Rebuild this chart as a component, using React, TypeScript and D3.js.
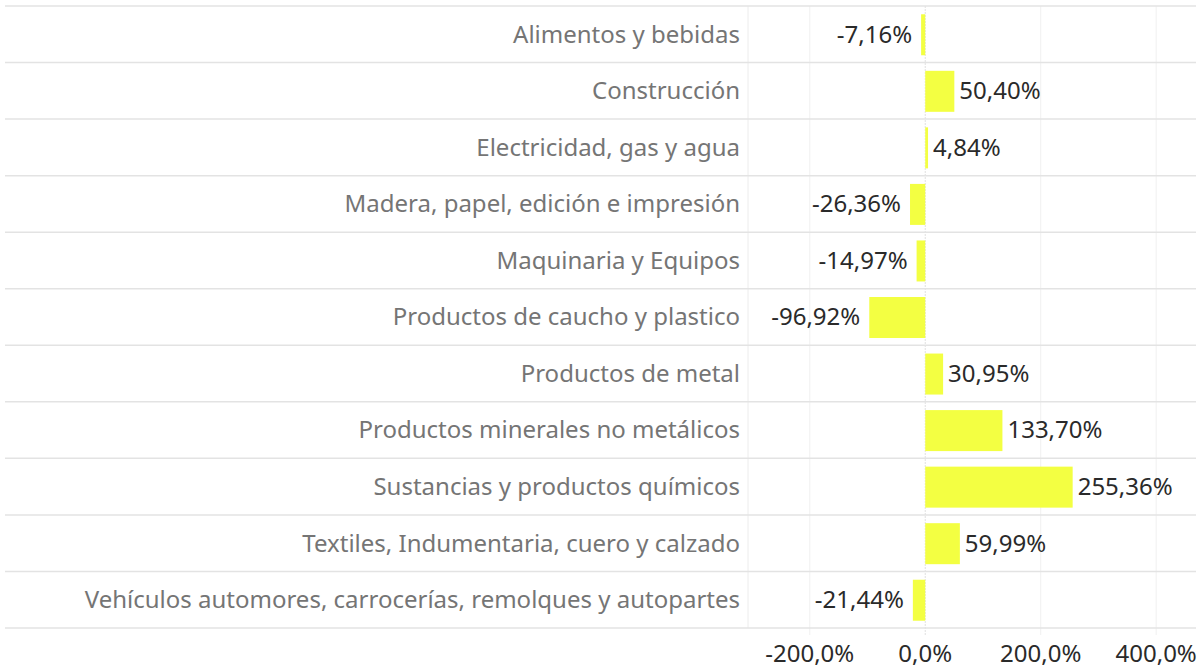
import React from "react";
import * as d3 from "d3";

const categories = [
  "Alimentos y bebidas",
  "Construcción",
  "Electricidad, gas y agua",
  "Madera, papel, edición e impresión",
  "Maquinaria y Equipos",
  "Productos de caucho y plastico",
  "Productos de metal",
  "Productos minerales no metálicos",
  "Sustancias y productos químicos",
  "Textiles, Indumentaria, cuero y calzado",
  "Vehículos automores, carrocerías, remolques y autopartes",
];
const values = [-7.16, 50.4, 4.84, -26.36, -14.97, -96.92, 30.95, 133.7, 255.36, 59.99, -21.44];
const ticks = [-200, 0, 200, 400];

const W = 1199;
const H = 669;
const FONT = "'Noto Sans', 'Open Sans', sans-serif";

export default function App() {
  const top = 6;
  const bottom = 628;
  const paneLeft = 748;
  const paneRight = 1196;
  const x = d3.scaleLinear().domain([-307, 469]).range([paneLeft, paneRight]);
  const y = d3.scaleBand<string>().domain(categories).range([top, bottom]).paddingInner(0).paddingOuter(0);
  const rowH = y.bandwidth();
  const barH = 41;
  const fmt = (v: number) => v.toFixed(2).replace(".", ",") + "%";
  const fmtTick = (v: number) => v.toFixed(1).replace(".", ",") + "%";

  return (
    <div style={{ position: "absolute", left: 0, top: 0 }}>
      <svg width={W} height={H} style={{ display: "block", background: "#fff" }}>
        {ticks.map((t) => (
          <line key={"g" + t} x1={x(t)} x2={x(t)} y1={top} y2={635} stroke={t === 0 ? "#e0e0e0" : "#f0f0f0"} strokeWidth={1} strokeDasharray={t === 0 ? "2,1" : undefined} />
        ))}
        <line x1={paneLeft} x2={paneLeft} y1={top} y2={bottom} stroke="#ececec" strokeWidth={1} />
        {d3.range(categories.length + 1).map((i) => (
          <line key={"r" + i} x1={5} x2={paneRight} y1={top + i * rowH} y2={top + i * rowH} stroke="#e3e3e3" strokeWidth={1.5} />
        ))}
        {categories.map((c, i) => {
          const v = values[i];
          const y0 = (y(c) as number) + (rowH - barH) / 2 + 0.5;
          const x0 = x(Math.min(0, v));
          const x1 = x(Math.max(0, v));
          const cy = (y(c) as number) + rowH / 2;
          return (
            <g key={c}>
              <text x={740} y={cy} dy="0.35em" textAnchor="end" fill="#757575" fontFamily={FONT} fontSize={24}>
                {c}
              </text>
              <rect x={x0} y={y0} width={x1 - x0} height={barH} fill="#f3ff42" />
              <text
                x={v >= 0 ? x1 + 5 : x0 - 9}
                y={cy}
                dy="0.35em"
                textAnchor={v >= 0 ? "start" : "end"}
                fill="#2a2a2a"
                fontFamily={FONT}
                fontSize={24}
              >
                {fmt(v)}
              </text>
            </g>
          );
        })}
        {ticks.map((t) => (
          <text key={"t" + t} x={x(t)} y={661.5} textAnchor="middle" fill="#2a2a2a" fontFamily={FONT} fontSize={24}>
            {fmtTick(t)}
          </text>
        ))}
      </svg>
    </div>
  );
}
